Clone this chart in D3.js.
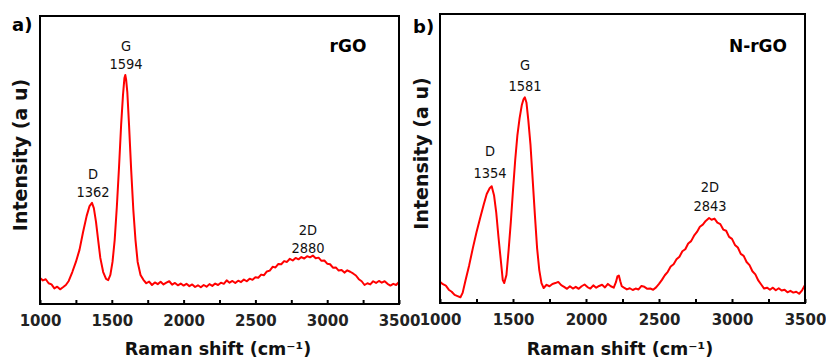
<!DOCTYPE html>
<html>
<head>
<meta charset="utf-8">
<script src="https://cdn.jsdelivr.net/npm/d3@7"></script>
<style>
  body { margin: 0; background: #fff; }
  svg text { font-family: "DejaVu Sans", Verdana, sans-serif; }
</style>
</head>
<body>
<div id="chart"></div>
<script>
// ---- data (intensity in arbitrary units, 0..100 plot scale) ----
const shiftA = [1000,1020,1040,1060,1080,1100,1120,1140,1160,1180,1200,1225,1250,1275,1300,1325,1345,1362,1375,1390,1405,1420,1440,1460,1475,1490,1505,1520,1535,1550,1565,1578,1588,1594,1600,1608,1620,1635,1650,1665,1680,
  1700,1720,1740,1760,1780,1800,1820,1840,1860,1880,1900,1920,1940,1960,1980,2000,2020,2040,2060,2080,2100,2120,2140,2160,2180,2200,2220,2240,2260,2280,2300,2320,2340,2360,2380,2400,2420,2440,2460,2480,2500,2520,2540,2560,2580,2600,2620,2640,2660,2680,2700,2720,2740,2760,2780,2800,2820,2840,2860,2880,2900,2920,2940,2960,2980,3000,3020,3040,3060,3080,3100,3120,3140,3160,3180,3200,3220,3240,3260,3280,3300,3320,3340,3360,3380,3400,3420,3440,3460,3480,3500];
const intensityA = [9.0,8.2,8.6,7.2,6.8,5.4,6.0,5.1,5.8,6.6,8.0,11.1,14.6,18.8,25.0,30.6,34.0,35.1,33.3,28.5,22.2,16.0,11.1,8.7,8.3,10.1,14.6,22.2,33.7,47.2,62.2,72.6,78.5,79.5,77.8,73.6,62.2,46.5,32.6,22.2,14.6,
  10.1,8.4,7.2,7.8,6.6,7.5,6.9,7.7,6.8,7.4,7.9,6.7,7.3,6.5,7.1,6.4,7.0,6.2,6.8,5.9,6.5,5.8,6.6,6.0,6.9,6.3,7.1,6.6,7.4,7.0,8.2,7.4,8.0,7.3,8.1,7.6,8.5,7.9,8.8,8.4,9.3,9.1,10.2,10.0,11.3,11.6,12.9,12.7,13.9,13.8,14.9,14.6,15.7,15.1,16.0,15.5,16.3,15.8,16.6,16.2,16.8,15.9,16.1,15.0,15.1,14.0,13.8,12.6,12.7,11.6,11.8,10.9,11.7,11.2,10.6,9.9,8.6,7.9,6.6,7.2,6.8,7.9,7.3,8.0,7.4,7.9,7.0,6.4,7.0,6.6,7.7];

const shiftB = [1000,1020,1040,1060,1080,1100,1120,1140,1155,1175,1200,1225,1250,1275,1300,1320,1340,1354,1370,1385,1400,1415,1430,1440,1455,1470,1485,1500,1515,1530,1545,1560,1572,1581,1592,1605,1620,1635,1650,1665,1680,1695,
  1710,1730,1750,1770,1790,1810,1830,1850,1870,1890,1910,1930,1950,1970,1990,2010,2030,2050,2070,2090,2110,2130,2150,2170,2190,2205,2215,2225,2235,2245,2260,2280,2300,2320,2340,2360,2380,2400,2420,2440,2460,2480,2500,2520,2540,2560,2580,2600,2620,2640,2660,2680,2700,2720,2740,2760,2780,2800,2820,2843,2860,2880,2900,2920,2940,2960,2980,3000,3020,3040,3060,3080,3100,3120,3140,3160,3180,3200,3220,3240,3260,3280,3300,3320,3340,3360,3380,3400,3420,3440,3460,3480,3500];
const intensityB = [7.3,6.5,6.0,4.6,3.9,2.8,2.4,2.0,3.5,7.9,13.1,19.0,24.5,29.4,34.2,37.7,39.7,40.4,37.3,31.4,23.1,15.5,7.9,6.9,9.7,18.3,28.0,39.0,49.4,58.0,63.9,68.4,70.5,71.2,69.4,63.2,54.6,42.5,30.4,19.0,11.4,6.9,
  5.2,6.3,5.8,6.6,6.9,7.3,6.2,5.6,4.9,5.8,5.0,5.6,4.9,5.8,6.4,5.5,5.0,6.1,5.3,5.9,6.3,5.4,6.6,5.8,5.3,7.2,9.2,9.5,7.5,5.8,5.3,4.7,5.1,4.5,5.0,4.7,5.9,5.6,4.9,5.0,4.6,5.4,6.6,8.0,9.6,10.8,12.6,13.4,15.1,16.0,17.9,18.6,20.6,21.4,23.3,24.6,26.4,27.1,28.4,29.4,28.8,29.2,27.8,27.3,25.4,25.0,22.9,22.2,20.1,19.2,17.0,16.3,14.2,13.1,11.0,9.9,7.8,6.4,5.0,5.3,4.6,5.3,4.4,5.1,4.3,4.6,3.7,4.2,3.6,3.9,3.2,4.4,6.2];

const xTicks = [1000,1500,2000,2500,3000,3500];
const xMinorTicks = [1250,1750,2250,2750,3250];

const panels = [
  { tag: "a)", name: "rGO", shift: shiftA, intensity: intensityA,
    box: { left: 40, top: 16, right: 399, bottom: 304 },
    peaks: [
      { band: "D", pos: "1362", x: 93, y1: 174, y2: 192 },
      { band: "G", pos: "1594", x: 126, y1: 46, y2: 64 },
      { band: "2D", pos: "2880", x: 308, y1: 230, y2: 248 }
    ],
    tagX: 12, tagY: 31, nameX: 348, yTitleX: 20, xTitleX: 218 },
  { tag: "b)", name: "N-rGO", shift: shiftB, intensity: intensityB,
    box: { left: 440, top: 14, right: 805, bottom: 303 },
    peaks: [
      { band: "D", pos: "1354", x: 490, y1: 151, y2: 173 },
      { band: "G", pos: "1581", x: 525, y1: 65, y2: 86 },
      { band: "2D", pos: "2843", x: 710, y1: 187, y2: 206 }
    ],
    tagX: 413, tagY: 33, nameX: 758, yTitleX: 421, xTitleX: 620 }
];

const svg = d3.select("#chart").append("svg")
  .attr("width", 826)
  .attr("height", 358);

panels.forEach(p => {
  const b = p.box;
  const x = d3.scaleLinear().domain([1000, 3500]).range([b.left, b.right]);
  const y = d3.scaleLinear().domain([0, 100]).range([b.bottom, b.top]);

  const g = svg.append("g");

  // spectrum
  const line = d3.line()
    .x((d, i) => x(p.shift[i]))
    .y(d => y(d));
  g.append("path")
    .datum(p.intensity)
    .attr("d", line)
    .attr("fill", "none")
    .attr("stroke", "#ff0000")
    .attr("stroke-width", 2)
    .attr("stroke-linejoin", "round");

  // frame
  g.append("rect")
    .attr("x", b.left).attr("y", b.top)
    .attr("width", b.right - b.left).attr("height", b.bottom - b.top)
    .attr("fill", "none").attr("stroke", "#000").attr("stroke-width", 2);

  // bottom axis, inward ticks
  const axis = d3.axisBottom(x)
    .tickValues(xTicks.concat(xMinorTicks))
    .tickSize(-4)
    .tickFormat(d => xTicks.includes(d) ? d : "");
  const ax = g.append("g")
    .attr("transform", `translate(0,${b.bottom})`)
    .call(axis);
  ax.select(".domain").remove();
  ax.selectAll(".tick line").attr("stroke", "#000").attr("stroke-width", 2);
  ax.selectAll(".tick text")
    .attr("y", 11)
    .attr("fill", "#222")
    .style("font-size", "15px")
    .style("font-weight", "bold");

  // axis titles
  g.append("text")
    .attr("x", p.xTitleX).attr("y", 355)
    .attr("text-anchor", "middle")
    .attr("fill", "#111")
    .style("font-size", "17.5px").style("font-weight", "bold")
    .text("Raman shift (cm\u207B\u00B9)");

  g.append("text")
    .attr("transform", `translate(${p.yTitleX + 7},${(b.top + b.bottom) / 2 - 5}) rotate(-90)`)
    .attr("text-anchor", "middle")
    .attr("fill", "#111")
    .style("font-size", "19px").style("font-weight", "bold")
    .text("Intensity (a u)");

  // panel tag and sample name
  g.append("text")
    .attr("x", p.tagX).attr("y", p.tagY)
    .attr("fill", "#000")
    .style("font-size", "18px").style("font-weight", "bold")
    .text(p.tag);

  g.append("text")
    .attr("x", p.nameX).attr("y", 52)
    .attr("text-anchor", "middle")
    .attr("fill", "#000")
    .style("font-size", "17px").style("font-weight", "bold")
    .text(p.name);

  // peak labels
  p.peaks.forEach(k => {
    [[k.band, k.y1], [k.pos, k.y2]].forEach(([t, ty]) => {
      g.append("text")
        .attr("x", k.x).attr("y", ty + 5)
        .attr("text-anchor", "middle").attr("fill", "#111")
        .style("font-family", "'DejaVu Sans Condensed', 'DejaVu Sans', sans-serif")
        .style("font-size", "14.5px")
        .text(t);
    });
  });
});
</script>
</body>
</html>
